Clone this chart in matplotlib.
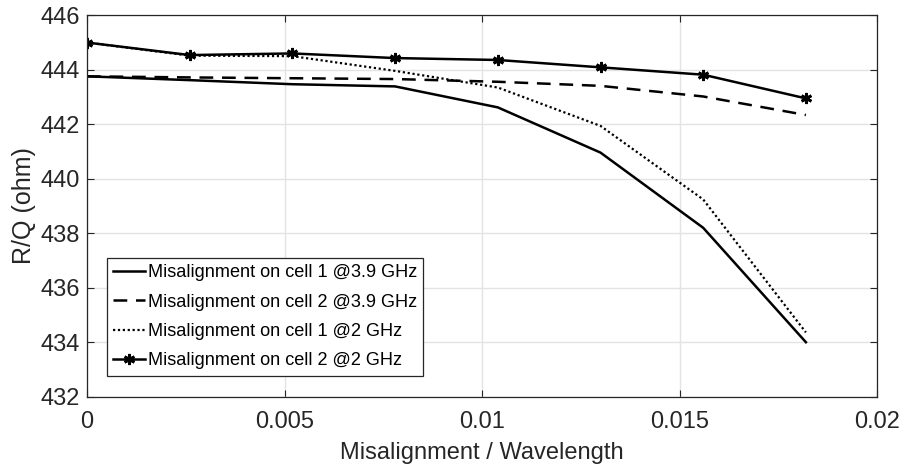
import matplotlib
matplotlib.use('Agg')
import matplotlib.pyplot as plt

plt.rcParams['font.family'] = ['Liberation Sans', 'DejaVu Sans']

# misalignment / wavelength
x = [0, 0.0026, 0.0052, 0.0078, 0.0104, 0.0130, 0.0156, 0.0182]

# R/Q (ohm)
cell1_39 = [443.76, 443.62, 443.47, 443.39, 442.62, 440.96, 438.20, 434.00]
cell2_39 = [443.76, 443.72, 443.69, 443.66, 443.56, 443.41, 443.02, 442.34]
cell1_2 = [445.00, 444.52, 444.50, 443.96, 443.35, 441.94, 439.24, 434.36]
cell2_2 = [445.00, 444.54, 444.60, 444.43, 444.36, 444.09, 443.82, 442.95]

labels = ['Misalignment on cell 1 @3.9 GHz',
          'Misalignment on cell 2 @3.9 GHz',
          'Misalignment on cell 1 @2 GHz',
          'Misalignment on cell 2 @2 GHz']

fig = plt.figure(figsize=(9.06, 4.68), dpi=100)
ax = fig.add_axes([87 / 906, 1 - 396.7 / 468, 790 / 906, 381.4 / 468])

ax.plot(x, cell1_39, color='black', lw=1.8, label=labels[0])
ax.plot(x, cell2_39, color='black', lw=1.8, dashes=(5.5, 3.5), label=labels[1])
ax.plot(x, cell1_2, color='black', lw=1.6, linestyle=(0, (1, 1.2)), label=labels[2])
ax.plot(x, cell2_2, color='black', lw=1.8, marker=(6, 2, 0), markersize=8,
        markeredgewidth=2.0, label=labels[3])

ax.set_xlim(0, 0.02)
ax.set_ylim(432, 446)
ax.set_xticks([0, 0.005, 0.01, 0.015, 0.02])
ax.set_xticklabels(['0', '0.005', '0.01', '0.015', '0.02'])
ax.set_yticks(range(432, 447, 2))

ax.grid(True, color='#e3e3e3', lw=1)
ax.set_axisbelow(True)
ax.tick_params(direction='in', top=True, right=True, labelsize=17,
               colors='#262626', length=5, width=0.8)
ax.tick_params(axis='y', pad=5)
ax.tick_params(axis='x', pad=10)
for s in ax.spines.values():
    s.set_color('#262626')
    s.set_linewidth(0.9)

ax.set_xlabel('Misalignment / Wavelength', fontsize=17, color='#262626', labelpad=7)
ax.set_ylabel('R/Q (ohm)', fontsize=18, color='#262626', labelpad=3)

leg = ax.legend(loc='lower left', bbox_to_anchor=(0.025, 0.055), fontsize=13.1,
                handlelength=1.75, handletextpad=0.15, borderpad=0.35,
                labelspacing=0.68, fancybox=False, framealpha=1,
                borderaxespad=0)
leg.get_frame().set_edgecolor('#262626')
leg.get_frame().set_linewidth(0.9)

fig.savefig('out.png', dpi=100)
